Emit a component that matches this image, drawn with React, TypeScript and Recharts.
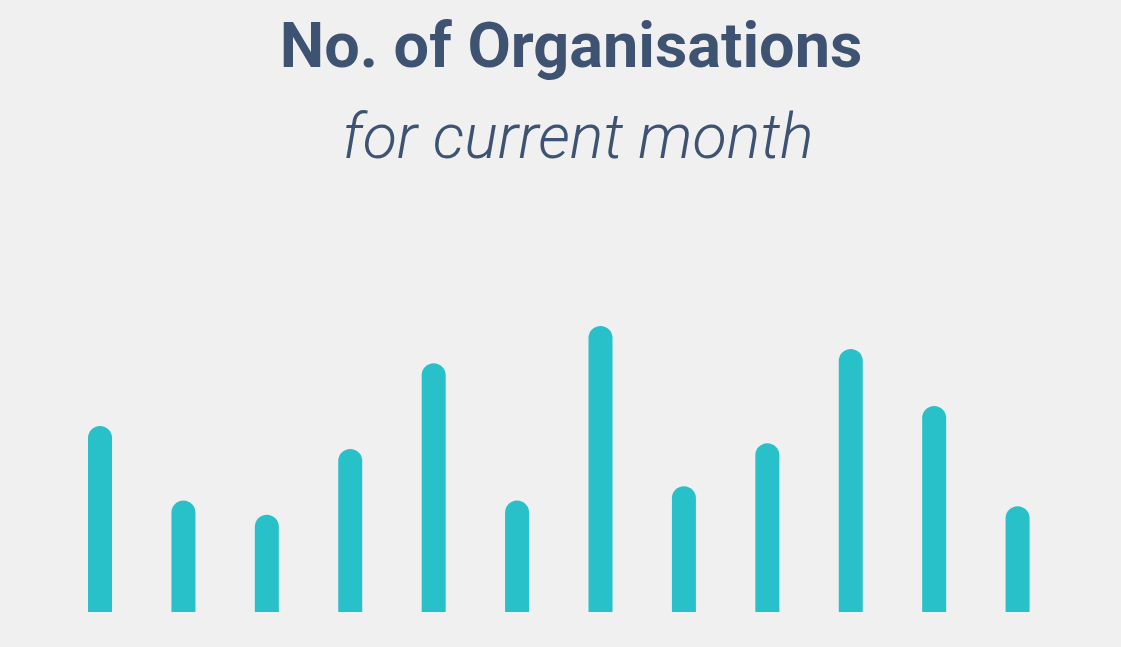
import React from 'react';
import { BarChart, Bar, XAxis, YAxis } from 'recharts';

// organisations per day bucket for the current month
const days = ['1', '2', '3', '4', '5', '6', '7', '8', '9', '10', '11', '12'];
const orgCounts = [65, 39, 34, 57, 87, 39, 100, 44, 59, 92, 72, 37];

const data = days.map((day, i) => ({ day, count: orgCounts[i] }));

const textColor = '#3e5372';

const App = () => {
  return (
    <div
      style={{
        position: 'absolute',
        left: 0,
        top: 0,
        width: 1121,
        height: 647,
        background: '#f0f0f0',
        fontFamily: 'Roboto, sans-serif',
        overflow: 'hidden',
      }}
    >
      <div
        style={{
          position: 'absolute',
          left: 571,
          top: 14,
          transform: 'translateX(-50%)',
          whiteSpace: 'nowrap',
          fontSize: 63,
          lineHeight: '63px',
          fontWeight: 700,
          color: textColor,
        }}
      >
        No. of Organisations
      </div>
      <div
        style={{
          position: 'absolute',
          left: 578,
          top: 105,
          transform: 'translateX(-50%)',
          whiteSpace: 'nowrap',
          fontSize: 63,
          lineHeight: '63px',
          fontWeight: 300,
          fontStyle: 'italic',
          color: textColor,
        }}
      >
        for current month
      </div>
      <div style={{ position: 'absolute', left: 0, top: 0 }}>
        <BarChart
          width={1121}
          height={647}
          data={data}
          margin={{ top: 326, right: 62, bottom: 35, left: 58 }}
        >
          <XAxis dataKey="day" hide />
          <YAxis hide domain={[0, 100]} />
          <Bar
            dataKey="count"
            fill="#28c1c9"
            barSize={24}
            radius={[12, 12, 0, 0]}
            isAnimationActive={false}
          />
        </BarChart>
      </div>
    </div>
  );
};

export default App;
